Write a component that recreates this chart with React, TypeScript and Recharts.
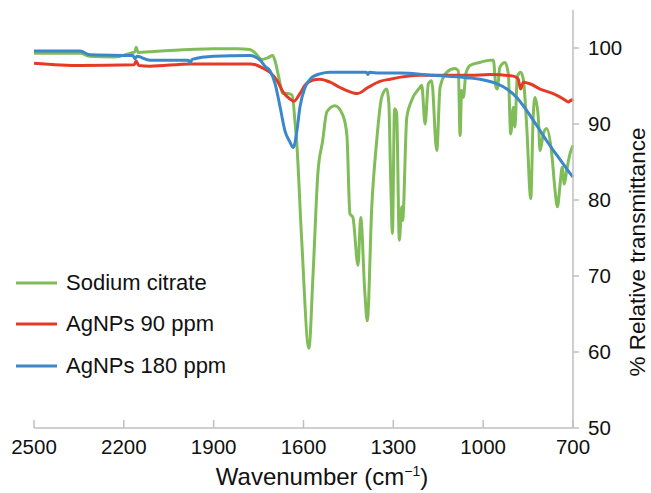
import React from 'react';
import { LineChart, Line, XAxis, YAxis } from 'recharts';

// wavenumbers (cm-1) and % transmittance
const citrateWn = [2500, 2346, 2313, 2230, 2180, 2163, 2159, 2152, 2113, 1979, 1900, 1822, 1779, 1760, 1740, 1720, 1703, 1695, 1685, 1668, 1652, 1638, 1628, 1623, 1606, 1582, 1568, 1552, 1536, 1522, 1495, 1468, 1455, 1445, 1435, 1418, 1409, 1395, 1387, 1372, 1356, 1339, 1322, 1315, 1309, 1303, 1296, 1289, 1280, 1272, 1269, 1255, 1239, 1211, 1205, 1194, 1183, 1172, 1155, 1144, 1122, 1094, 1083, 1077, 1072, 1066, 1058, 1044, 1011, 977, 966, 957, 953, 944, 927, 916, 908, 899, 894, 886, 875, 866, 855, 841, 833, 827, 816, 810, 799, 788, 771, 760, 752, 743, 736, 729, 721, 710, 700];
const citrateT = [99.3, 99.3, 98.9, 98.8, 99.3, 99.5, 100.1, 99.4, 99.5, 99.8, 99.9, 99.9, 99.8, 99.3, 98.5, 98.7, 99.0, 98.3, 96.6, 94.0, 94.0, 93.8, 90.1, 87.8, 74.7, 60.5, 70.3, 83.5, 87.8, 91.6, 92.4, 91.1, 88.5, 78.2, 77.7, 71.4, 77.7, 67.7, 64.1, 79.1, 87.6, 93.5, 94.6, 92.7, 83.0, 75.6, 92.0, 91.5, 74.7, 79.1, 77.3, 90.9, 93.1, 94.8, 95.1, 90.0, 95.3, 95.7, 86.5, 94.8, 96.8, 97.3, 97.0, 88.5, 94.4, 93.5, 96.6, 97.7, 98.1, 98.4, 98.4, 94.8, 94.6, 97.5, 98.1, 96.6, 88.7, 92.2, 89.6, 96.2, 96.8, 95.9, 90.0, 80.2, 90.9, 93.5, 90.9, 86.5, 88.7, 89.4, 86.1, 81.3, 79.1, 82.1, 84.3, 82.1, 83.9, 86.1, 87.2];

const ag90Wn = [2500, 2346, 2165, 2159, 2150, 2113, 1979, 1779, 1760, 1729, 1712, 1688, 1668, 1645, 1632, 1612, 1595, 1568, 1545, 1511, 1478, 1435, 1421, 1385, 1345, 1311, 1211, 1044, 977, 899, 883, 875, 866, 844, 810, 766, 732, 716, 704, 700];
const ag90T = [98.0, 97.7, 97.8, 98.3, 97.7, 97.6, 97.9, 97.9, 97.8, 97.2, 96.8, 95.7, 94.2, 93.3, 93.0, 94.0, 95.1, 95.8, 95.9, 95.5, 94.8, 94.1, 94.0, 94.8, 95.6, 95.9, 96.4, 96.4, 96.5, 96.3, 95.9, 94.6, 95.5, 95.3, 94.6, 94.0, 93.3, 92.9, 93.2, 93.0];

const ag180Wn = [2500, 2346, 2313, 2170, 2163, 2156, 2113, 1985, 1979, 1972, 1900, 1779, 1745, 1729, 1712, 1695, 1678, 1662, 1645, 1634, 1622, 1612, 1595, 1578, 1545, 1511, 1461, 1390, 1385, 1380, 1345, 1278, 1167, 1055, 988, 955, 921, 888, 855, 821, 788, 754, 721, 700];
const ag180T = [99.6, 99.6, 99.1, 99.0, 98.6, 98.9, 98.4, 98.4, 98.0, 98.5, 98.9, 99.0, 98.4, 97.6, 97.0, 95.3, 92.2, 89.1, 87.6, 86.9, 89.1, 92.2, 94.8, 95.9, 96.6, 96.8, 96.8, 96.8, 96.5, 96.8, 96.7, 96.7, 96.4, 96.1, 95.7, 95.3, 94.6, 93.5, 91.8, 89.8, 87.8, 85.9, 84.1, 83.0];

const xTicks = [2500, 2200, 1900, 1600, 1300, 1000, 700];
const yTicks = [50, 60, 70, 80, 90, 100];

const seriesNames = ['Sodium citrate', 'AgNPs 90 ppm', 'AgNPs 180 ppm'];
const seriesColors = ['#80bc58', '#e53b26', '#3b87c9'];

const toPoints = (wn: number[], t: number[]) => wn.map((x, i) => ({ x, y: t[i] }));

const AXIS = '#bfbfbf';
const FONT = '"Liberation Sans", Arial, sans-serif';
const PLOT_BOTTOM = 428;

const XTick = ({ x, y, payload }: any) => (
  <g>
    <line x1={x} x2={x} y1={PLOT_BOTTOM} y2={PLOT_BOTTOM - 8} stroke={AXIS} strokeWidth={1.5} />
    <text x={x} y={y} dy="0.71em" textAnchor="middle" fill="#111" fontSize={20.5} fontFamily={FONT}>
      {payload.value}
    </text>
  </g>
);

// legend sits inside the plot, bottom left
const LegendBox = () => (
  <div style={{ position: 'absolute', left: 16, top: 262, fontFamily: FONT, fontSize: 22, color: '#111' }}>
    {seriesNames.map((name, i) => (
      <div key={name} style={{ display: 'flex', alignItems: 'center', height: 41.5 }}>
        <svg width={50} height={6}>
          <line x1={0} x2={41} y1={3} y2={3} stroke={seriesColors[i]} strokeWidth={3} />
        </svg>
        <span>{name}</span>
      </div>
    ))}
  </div>
);

export default function App() {
  const series = [toPoints(citrateWn, citrateT), toPoints(ag90Wn, ag90T), toPoints(ag180Wn, ag180T)];
  return (
    <div style={{ position: 'absolute', left: 0, top: 0, width: 651, height: 493, background: '#fff' }}>
      <LineChart width={651} height={493} margin={{ top: 10, right: 0, left: 34, bottom: 0 }}>
        <XAxis
          dataKey="x"
          type="number"
          domain={[700, 2500]}
          reversed
          ticks={xTicks}
          interval={0}
          height={65}
          tickSize={0}
          tickMargin={11}
          tickLine={false}
          axisLine={{ stroke: AXIS, strokeWidth: 1.5 }}
          tick={<XTick />}
          label={{
            content: () => (
              <text x={322} y={485} textAnchor="middle" fill="#111" fontSize={24} fontFamily={FONT}>
                Wavenumber (cm
                <tspan fontSize={14} dy={-9}>−1</tspan>
                <tspan dy={9}>)</tspan>
              </text>
            ),
          }}
        />
        <YAxis
          dataKey="y"
          type="number"
          orientation="right"
          domain={[50, 105]}
          ticks={yTicks}
          interval={0}
          width={78}
          tickSize={6}
          tickMargin={9}
          axisLine={{ stroke: AXIS, strokeWidth: 1.5 }}
          tickLine={{ stroke: AXIS, strokeWidth: 1.5 }}
          tick={{ fill: '#111', fontSize: 20.5, fontFamily: FONT }}
          label={{
            content: () => (
              <text
                x={645}
                y={252}
                transform="rotate(-90 645 252)"
                textAnchor="middle"
                fill="#111"
                fontSize={22.5}
                fontFamily={FONT}
              >
                % Relative transmittance
              </text>
            ),
          }}
        />
        {series.map((data, i) => (
          <Line
            key={seriesNames[i]}
            data={data}
            dataKey="y"
            name={seriesNames[i]}
            type="monotone"
            stroke={seriesColors[i]}
            strokeWidth={3}
            dot={false}
            activeDot={false}
            isAnimationActive={false}
          />
        ))}
      </LineChart>
      <LegendBox />
    </div>
  );
}
